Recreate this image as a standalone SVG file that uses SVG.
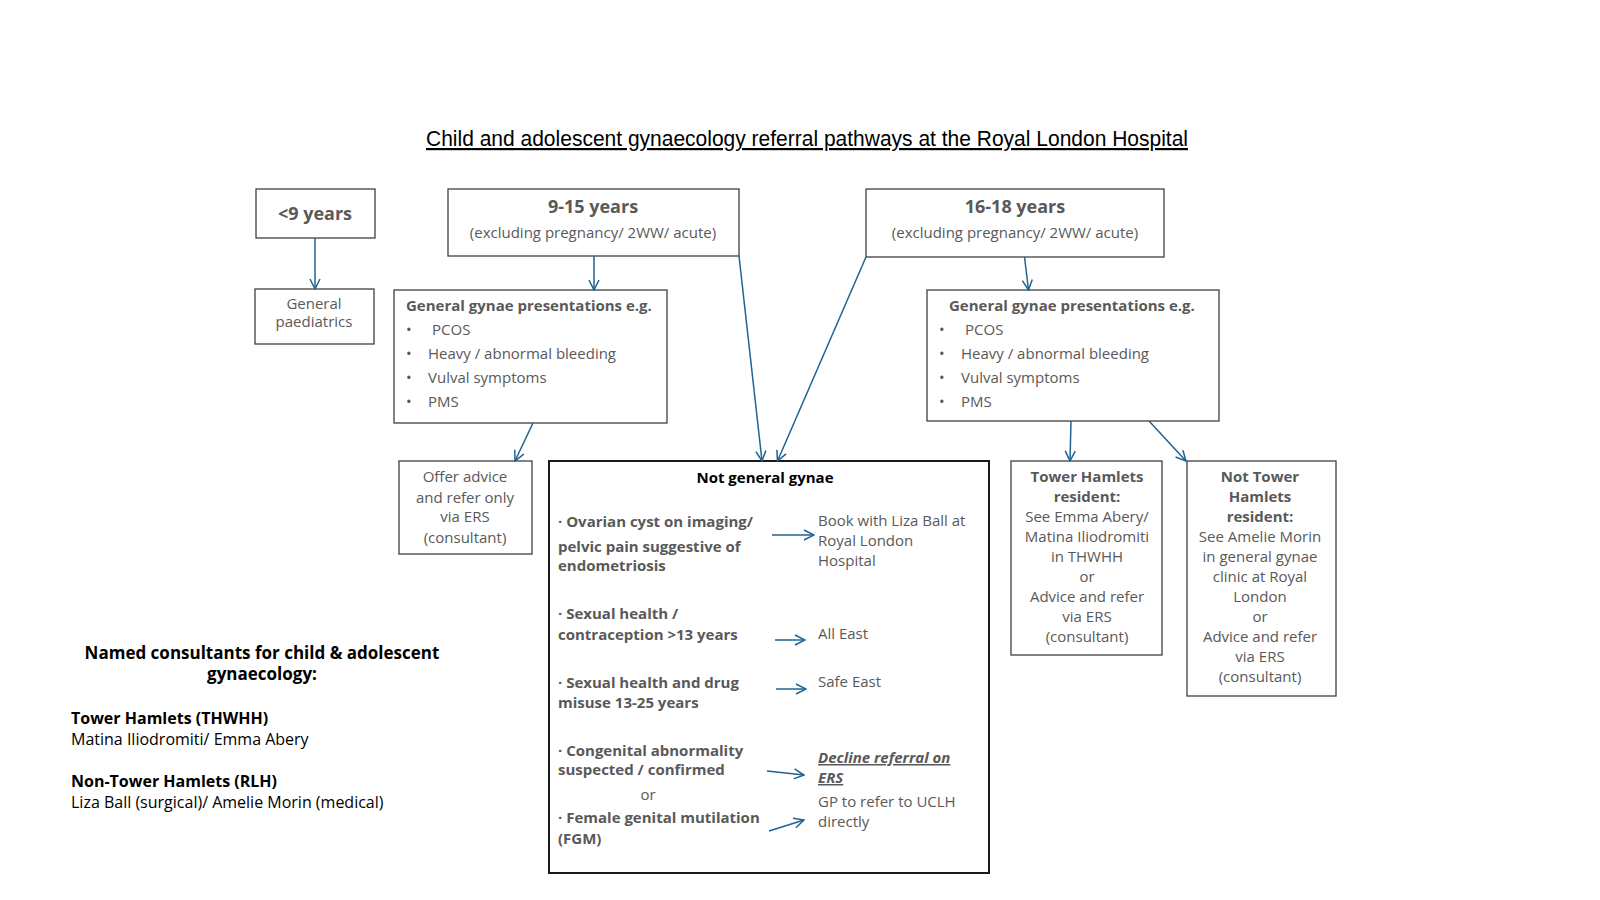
<svg xmlns="http://www.w3.org/2000/svg" width="1600" height="900" viewBox="0 0 1600 900">
<style>
text{font-family:"Open Sans","Noto Sans","Liberation Sans",sans-serif;font-size:15px;fill:#595959}
.b{font-weight:bold}
.c{text-anchor:middle}
.h{font-size:18px;font-weight:bold}
.n{font-size:17px;font-weight:bold}
.k{fill:#000}
.box{fill:#fff;stroke:#404040;stroke-width:1.3}
.conn line{stroke:#1F6391;stroke-width:1.5;marker-end:url(#ah)}
</style>
<defs>
<marker id="ah" viewBox="0 0 12 12" refX="11" refY="6" markerWidth="12" markerHeight="12" markerUnits="userSpaceOnUse" orient="auto">
<path d="M1,1 L11,6 L1,11" fill="none" stroke="#1F6391" stroke-width="1.5"/>
</marker>
</defs>
<rect width="1600" height="900" fill="#fff"/>

<text x="807" y="146" class="c k" style="font-family:'Liberation Sans',sans-serif;font-size:22px;text-decoration:underline" textLength="762" lengthAdjust="spacingAndGlyphs">Child and adolescent gynaecology referral pathways at the Royal London Hospital</text>

<g id="under9">
<rect class="box" x="256" y="189" width="119" height="49"/>
<text x="315" y="220" class="c h">&lt;9 years</text>
</g>
<g id="paediatrics">
<rect class="box" x="255" y="289" width="119" height="55"/>
<text x="314" y="309" class="c">General</text>
<text x="314" y="327" class="c">paediatrics</text>
</g>
<g id="age9to15">
<rect class="box" x="448" y="189" width="291" height="67"/>
<text x="593" y="213" class="c h">9-15 years</text>
<text x="593" y="238" class="c">(excluding pregnancy/ 2WW/ acute)</text>
</g>
<g id="age16to18">
<rect class="box" x="866" y="189" width="298" height="68"/>
<text x="1015" y="213" class="c h">16-18 years</text>
<text x="1015" y="238" class="c">(excluding pregnancy/ 2WW/ acute)</text>
</g>
<g id="gynaeLeft">
<rect class="box" x="394" y="290" width="273" height="133"/>
<text x="406" y="311" class="b">General gynae presentations e.g.</text>
<text x="406" y="335">•</text><text x="432" y="335">PCOS</text>
<text x="406" y="359">•</text><text x="428" y="359">Heavy / abnormal bleeding</text>
<text x="406" y="383">•</text><text x="428" y="383">Vulval symptoms</text>
<text x="406" y="407">•</text><text x="428" y="407">PMS</text>
</g>
<g id="gynaeRight">
<rect class="box" x="927" y="290" width="292" height="131"/>
<text x="949" y="311" class="b">General gynae presentations e.g.</text>
<text x="939" y="335">•</text><text x="965" y="335">PCOS</text>
<text x="939" y="359">•</text><text x="961" y="359">Heavy / abnormal bleeding</text>
<text x="939" y="383">•</text><text x="961" y="383">Vulval symptoms</text>
<text x="939" y="407">•</text><text x="961" y="407">PMS</text>
</g>
<g id="offerAdvice">
<rect class="box" x="399" y="461" width="133" height="93"/>
<text x="465" y="482" class="c">Offer advice</text>
<text x="465" y="503" class="c">and refer only</text>
<text x="465" y="522" class="c">via ERS</text>
<text x="465" y="543" class="c">(consultant)</text>
</g>
<g id="notGeneral">
<rect x="549" y="461" width="440" height="412" fill="#fff" stroke="#1a1a1a" stroke-width="2"/>
<text x="765" y="483" class="c b k">Not general gynae</text>
<text x="558" y="527" class="b">· Ovarian cyst on imaging/</text>
<text x="558" y="552" class="b">pelvic pain suggestive of</text>
<text x="558" y="571" class="b">endometriosis</text>
<text x="818" y="526">Book with Liza Ball at</text>
<text x="818" y="546">Royal London</text>
<text x="818" y="566">Hospital</text>
<text x="558" y="619" class="b">· Sexual health /</text>
<text x="558" y="640" class="b">contraception &gt;13 years</text>
<text x="818" y="639">All East</text>
<text x="558" y="688" class="b">· Sexual health and drug</text>
<text x="558" y="708" class="b">misuse 13-25 years</text>
<text x="818" y="687">Safe East</text>
<text x="558" y="756" class="b">· Congenital abnormality</text>
<text x="558" y="775" class="b">suspected / confirmed</text>
<text x="648" y="800" class="c">or</text>
<text x="558" y="823" class="b">· Female genital mutilation</text>
<text x="558" y="844" class="b">(FGM)</text>
<text x="818" y="763" class="b" style="font-style:italic;text-decoration:underline">Decline referral on</text>
<text x="818" y="783" class="b" style="font-style:italic;text-decoration:underline">ERS</text>
<text x="818" y="807">GP to refer to UCLH</text>
<text x="818" y="827">directly</text>
</g>
<g id="towerHamlets">
<rect class="box" x="1011" y="461" width="151" height="194"/>
<text x="1087" y="482" class="c b">Tower Hamlets</text>
<text x="1087" y="502" class="c b">resident:</text>
<text x="1087" y="522" class="c">See Emma Abery/</text>
<text x="1087" y="542" class="c">Matina Iliodromiti</text>
<text x="1087" y="562" class="c">in THWHH</text>
<text x="1087" y="582" class="c">or</text>
<text x="1087" y="602" class="c">Advice and refer</text>
<text x="1087" y="622" class="c">via ERS</text>
<text x="1087" y="642" class="c">(consultant)</text>
</g>
<g id="notTowerHamlets">
<rect class="box" x="1187" y="461" width="149" height="235"/>
<text x="1260" y="482" class="c b">Not Tower</text>
<text x="1260" y="502" class="c b">Hamlets</text>
<text x="1260" y="522" class="c b">resident:</text>
<text x="1260" y="542" class="c">See Amelie Morin</text>
<text x="1260" y="562" class="c">in general gynae</text>
<text x="1260" y="582" class="c">clinic at Royal</text>
<text x="1260" y="602" class="c">London</text>
<text x="1260" y="622" class="c">or</text>
<text x="1260" y="642" class="c">Advice and refer</text>
<text x="1260" y="662" class="c">via ERS</text>
<text x="1260" y="682" class="c">(consultant)</text>
</g>
<g id="namedConsultants">
<text x="262" y="659" class="c n k">Named consultants for child &amp; adolescent</text>
<text x="262" y="680" class="c n k">gynaecology:</text>
<text x="71" y="724" class="k b" style="font-size:16px">Tower Hamlets (THWHH)</text>
<text x="71" y="745" class="k" style="font-size:16px">Matina Iliodromiti/ Emma Abery</text>
<text x="71" y="787" class="k b" style="font-size:16px">Non-Tower Hamlets (RLH)</text>
<text x="71" y="808" class="k" style="font-size:16px">Liza Ball (surgical)/ Amelie Morin (medical)</text>
</g>
<g id="connectors" class="conn">
<line x1="315" y1="238" x2="315" y2="289"/>
<line x1="594" y1="256" x2="594" y2="290"/>
<line x1="1024.5" y1="257" x2="1028.5" y2="290"/>
<line x1="533" y1="423" x2="515" y2="461"/>
<line x1="739" y1="256" x2="762" y2="461"/>
<line x1="866" y1="257" x2="777.5" y2="461"/>
<line x1="1071" y1="421" x2="1070" y2="461"/>
<line x1="1149" y1="421" x2="1186" y2="461"/>
<line x1="772" y1="535" x2="814" y2="535"/>
<line x1="775" y1="640" x2="805" y2="640"/>
<line x1="776" y1="689" x2="806" y2="689"/>
<line x1="767" y1="771" x2="804" y2="775"/>
<line x1="769" y1="831" x2="804" y2="820"/>
</g>
</svg>
